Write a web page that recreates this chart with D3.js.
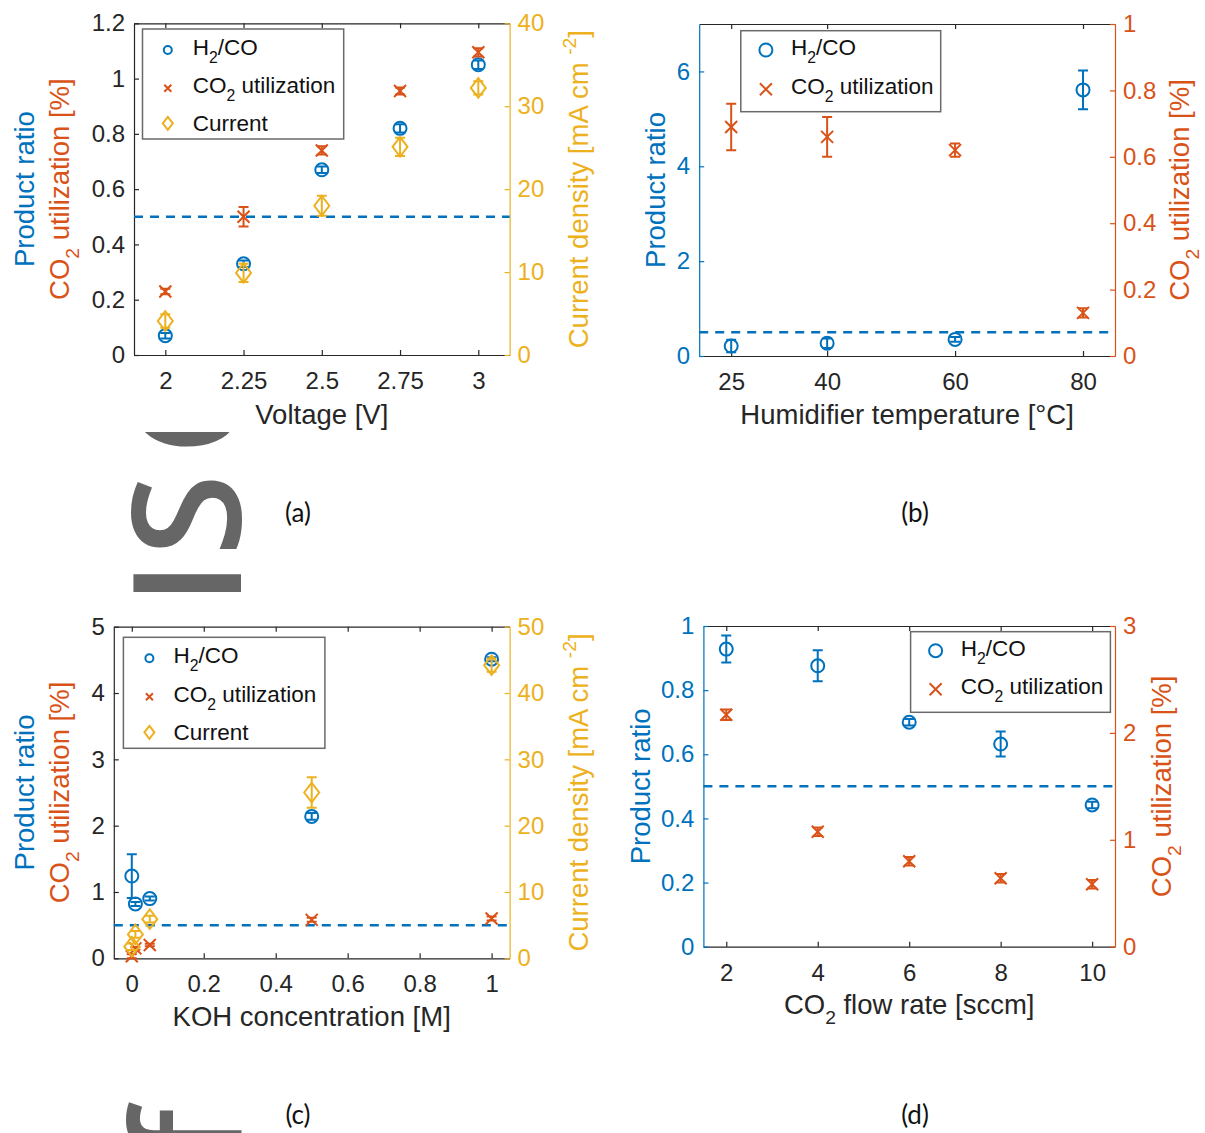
<!DOCTYPE html>
<html>
<head>
<meta charset="utf-8">
<script src="https://cdn.jsdelivr.net/npm/d3@7"></script>
<style>
  body { margin: 0; background: #fff; }
  svg { display: block; font-family: "Liberation Sans", Arial, sans-serif; }
</style>
</head>
<body>
<div id="chart"></div>
<script>
// MATLAB default colours
var blue = "#0072BD", orange = "#D95319", yellow = "#EDB120", ink = "#262626";

// (a) cell voltage
var voltage = [2, 2.25, 2.5, 2.75, 3];
var aRatio = [0.07, 0.33, 0.67, 0.82, 1.05];
var aRatioErr = [0.01, 0.012, 0.012, 0.015, 0.015];
var aUtil = [0.23, 0.50, 0.74, 0.955, 1.095];
var aUtilErr = [0.01, 0.035, 0.015, 0.013, 0.015];
var aCurrent = [4.1, 9.9, 18.0, 25.1, 32.2];
var aCurrentErr = [0.8, 1.1, 1.2, 1.1, 0.8];

// (b) humidifier temperature
var humTemp = [25, 40, 60, 80];
var bRatio = [0.21, 0.27, 0.35, 5.61];
var bRatioErr = [0.13, 0.1, 0.05, 0.41];
var bUtil = [0.69, 0.66, 0.62, 0.13];
var bUtilErr = [0.07, 0.06, 0.02, 0.014];

// (c) KOH concentration
var koh = [0, 0.01, 0.05, 0.5, 1];
var cRatio = [1.24, 0.82, 0.9, 2.14, 4.51];
var cRatioErr = [0.33, 0.03, 0.03, 0.05, 0.03];
var cUtil = [0.03, 0.15, 0.2, 0.58, 0.6];
var cUtilErr = [0.03, 0.02, 0.02, 0.03, 0.03];
var cCurrent = [1.75, 3.6, 5.9, 25.0, 44.2];
var cCurrentErr = [0.5, 0.5, 0.5, 2.3, 1.0];

// (d) CO2 flow rate
var flow = [2, 4, 6, 8, 10];
var dRatio = [0.928, 0.876, 0.70, 0.632, 0.442];
var dRatioErr = [0.042, 0.048, 0.01, 0.039, 0.01];
var dUtil = [2.17, 1.076, 0.80, 0.64, 0.584];
var dUtilErr = [0.05, 0.04, 0.04, 0.04, 0.04];

// tick values
var voltageTicks = [2, 2.25, 2.5, 2.75, 3];
var aLeftTicks = [0, 0.2, 0.4, 0.6, 0.8, 1, 1.2];
var aRightTicks = [0, 10, 20, 30, 40];
var humTicks = [25, 40, 60, 80];
var bLeftTicks = [0, 2, 4, 6];
var bRightTicks = [0, 0.2, 0.4, 0.6, 0.8, 1];
var kohTicks = [0, 0.2, 0.4, 0.6, 0.8, 1];
var cLeftTicks = [0, 1, 2, 3, 4, 5];
var cRightTicks = [0, 10, 20, 30, 40, 50];
var flowTicks = [2, 4, 6, 8, 10];
var dLeftTicks = [0, 0.2, 0.4, 0.6, 0.8, 1];
var dRightTicks = [0, 1, 2, 3];

var FONT = '"Liberation Sans", Arial, sans-serif';
var fmt = function(d) { return String(d); };
var svg = d3.select("#chart").append("svg")
  .attr("width", 1205)
  .attr("height", 1133);

// ---- faint watermark letters peeking out between the panels
var clip = svg.append("defs").append("clipPath").attr("id", "wm");
clip.append("rect").attr("x", 110).attr("y", 432).attr("width", 150).attr("height", 163);
clip.append("rect").attr("x", 110).attr("y", 1093).attr("width", 150).attr("height", 40);
var wm = svg.append("g").attr("clip-path", "url(#wm)")
  .attr("fill", "#666").attr("font-family", '"Open Sans", sans-serif')
  .attr("font-weight", 600).attr("font-size", 150).attr("text-anchor", "middle");
[["I", 583], ["S", 515], ["C", 408], ["f", 1136]].forEach(function(w) {
  wm.append("text").attr("transform", "translate(241," + w[1] + ") rotate(-90)").text(w[0]);
});

// ---- marker shapes
var symX = { draw: function(c, size) { var r = Math.sqrt(size) / 2;
  c.moveTo(-r, -r); c.lineTo(r, r); c.moveTo(r, -r); c.lineTo(-r, r); } };
var symDiamond = { draw: function(c, size) { var r = Math.sqrt(size) / 2;
  c.moveTo(0, -r * 1.3); c.lineTo(r, 0); c.lineTo(0, r * 1.3); c.lineTo(-r, 0); c.closePath(); } };
function marker(kind, big) {
  var r = big ? 6.5 : 4;
  if (kind === "o") return d3.symbol().type(d3.symbolCircle).size(Math.PI * r * r)();
  if (kind === "x") return d3.symbol().type(symX).size(big ? 144 : 49)();
  return d3.symbol().type(symDiamond).size(big ? 225 : 100)();
}

// text with sub/superscripts
function rich(t, parts, size) {
  var cur = 0;
  parts.forEach(function(p) {
    var off = p.sub ? size * 0.36 : (p.sup ? -size * 0.45 : 0);
    var s = t.append("tspan").text(p.t).attr("dy", off - cur);
    if (p.sub || p.sup) s.attr("font-size", size * 0.7);
    cur = off;
  });
}
var H2CO = [{t: "H"}, {t: "2", sub: true}, {t: "/CO"}];
var CO2U = [{t: "CO"}, {t: "2", sub: true}, {t: " utilization"}];
var CO2UL = [{t: "CO"}, {t: "2", sub: true}, {t: " utilization [%]"}];
var CURL = [{t: "Current density [mA cm "}, {t: "-2", sup: true}, {t: "]"}];
var CURL0 = [{t: "Current"}];

function styleAxis(a, color) {
  a.attr("color", color).attr("font-family", FONT).attr("font-size", 24);
  a.selectAll("path, line").attr("stroke-width", 1.2);
}

function panel(p) {
  var g = svg.append("g");
  var x = d3.scaleLinear().domain(p.xDomain).range([p.left, p.right]);
  var yL = d3.scaleLinear().domain(p.leftDomain).range([p.bottom, p.top]);
  var yR = d3.scaleLinear().domain(p.rightDomain).range([p.bottom, p.top]);

  // box: top line, bottom axis, left and right axes (ticks point inward)
  styleAxis(g.append("g").attr("transform", "translate(0," + p.top + ")")
    .call(d3.axisTop(x).tickValues(p.xTicks).tickSize(-5).tickSizeOuter(0).tickFormat("")), ink);
  styleAxis(g.append("g").attr("transform", "translate(0," + p.bottom + ")")
    .call(d3.axisBottom(x).tickValues(p.xTicks).tickFormat(fmt).tickSize(-5).tickSizeOuter(0).tickPadding(17)), ink);
  styleAxis(g.append("g").attr("transform", "translate(" + p.left + ",0)")
    .call(d3.axisLeft(yL).tickValues(p.leftTicks).tickFormat(fmt).tickSize(-5).tickSizeOuter(0).tickPadding(9)), p.leftColor);
  styleAxis(g.append("g").attr("transform", "translate(" + p.right + ",0)")
    .call(d3.axisRight(yR).tickValues(p.rightTicks).tickFormat(fmt).tickSize(-5).tickSizeOuter(0).tickPadding(8)), p.rightColor);

  // reference line at H2/CO = 0.5
  g.append("line")
    .attr("x1", p.left).attr("x2", p.right)
    .attr("y1", yL(0.5)).attr("y2", yL(0.5))
    .attr("stroke", blue).attr("stroke-width", 2.5).attr("stroke-dasharray", "9,7");

  // series with error bars
  p.series.forEach(function(s) {
    var y = s.axis === "right" ? yR : yL;
    var pts = s.x.map(function(xv, i) { return {x: xv, v: s.values[i], e: s.errs[i]}; });
    var sg = g.append("g").attr("stroke", s.color).attr("fill", "none").attr("stroke-width", 2);
    sg.selectAll(".eb").data(pts).enter().append("path")
      .attr("d", function(d) {
        var cx = x(d.x), y1 = y(d.v - d.e), y2 = y(d.v + d.e);
        return "M" + (cx - 5) + "," + y1 + "H" + (cx + 5) + "M" + cx + "," + y1 + "V" + y2 +
               "M" + (cx - 5) + "," + y2 + "H" + (cx + 5);
      });
    sg.selectAll(".mk").data(pts).enter().append("path")
      .attr("transform", function(d) { return "translate(" + x(d.x) + "," + y(d.v) + ")"; })
      .attr("d", marker(s.marker, true));
  });

  // axis labels
  rich(g.append("text").attr("text-anchor", "middle").attr("font-size", 27.5).attr("fill", ink)
    .attr("x", (p.left + p.right) / 2).attr("y", p.xLabelY), p.xLabel, 27.5);
  p.yLabels.forEach(function(l) {
    rich(g.append("text").attr("text-anchor", "middle").attr("font-size", 27.5).attr("fill", l.color)
      .attr("transform", "translate(" + l.x + "," + (p.top + p.bottom) / 2 + ") rotate(-90)"), l.parts, 27.5);
  });

  // legend
  var L = p.legend;
  var lg = g.append("g");
  lg.append("rect").attr("x", L.x0).attr("y", L.y0).attr("width", L.x1 - L.x0).attr("height", L.y1 - L.y0)
    .attr("fill", "#fff").attr("stroke", "#6a6a6a").attr("stroke-width", 1.5);
  L.rows.forEach(function(r, i) {
    var s = p.series[i];
    lg.append("path").attr("transform", "translate(" + L.mx + "," + r + ")")
      .attr("d", marker(s.marker, L.big)).attr("fill", "none").attr("stroke", s.color).attr("stroke-width", 2);
    rich(lg.append("text").attr("x", L.tx).attr("y", r + (s.name === CURL0 ? 8 : 5))
      .attr("font-size", 22.5).attr("fill", "#111"), s.name, 22.5);
  });

  svg.append("text").attr("x", p.tag[0]).attr("y", p.tag[1]).attr("text-anchor", "middle")
    .attr("font-family", "Lato, 'Open Sans', sans-serif").attr("font-size", 26).attr("fill", "#111")
    .text(p.tag[2]);
}

panel({
  left: 134, right: 509.6, top: 23.3, bottom: 355,
  xDomain: [1.9, 3.1], xTicks: voltageTicks,
  leftDomain: [0, 1.2], leftTicks: aLeftTicks, leftColor: ink,
  rightDomain: [0, 40], rightTicks: aRightTicks, rightColor: yellow,
  series: [
    {name: H2CO, x: voltage, values: aRatio, errs: aRatioErr, axis: "left", marker: "o", color: blue},
    {name: CO2U, x: voltage, values: aUtil, errs: aUtilErr, axis: "left", marker: "x", color: orange},
    {name: CURL0, x: voltage, values: aCurrent, errs: aCurrentErr, axis: "right", marker: "d", color: yellow}
  ],
  xLabel: [{t: "Voltage [V]"}], xLabelY: 424,
  yLabels: [{x: 34, color: blue, parts: [{t: "Product ratio"}]},
            {x: 69, color: orange, parts: CO2UL},
            {x: 588, color: yellow, parts: CURL}],
  legend: {x0: 142.5, x1: 343.7, y0: 29, y1: 139, mx: 167.8, tx: 192.7, rows: [50, 88.3, 123.3], big: false},
  tag: [298, 522, "(a)"]
});

panel({
  left: 699.2, right: 1115, top: 24, bottom: 356,
  xDomain: [20, 85], xTicks: humTicks,
  leftDomain: [0, 7], leftTicks: bLeftTicks, leftColor: blue,
  rightDomain: [0, 1], rightTicks: bRightTicks, rightColor: orange,
  series: [
    {name: H2CO, x: humTemp, values: bRatio, errs: bRatioErr, axis: "left", marker: "o", color: blue},
    {name: CO2U, x: humTemp, values: bUtil, errs: bUtilErr, axis: "right", marker: "x", color: orange}
  ],
  xLabel: [{t: "Humidifier temperature [°C]"}], xLabelY: 424,
  yLabels: [{x: 665, color: blue, parts: [{t: "Product ratio"}]},
            {x: 1189, color: orange, parts: CO2UL}],
  legend: {x0: 740.8, x1: 940.7, y0: 30.7, y1: 111.7, mx: 765.9, tx: 791, rows: [50, 89.3], big: true},
  tag: [915, 522, "(b)"]
});

panel({
  left: 113.8, right: 509.6, top: 626.7, bottom: 958.3,
  xDomain: [-0.05, 1.05], xTicks: kohTicks,
  leftDomain: [0, 5], leftTicks: cLeftTicks, leftColor: ink,
  rightDomain: [0, 50], rightTicks: cRightTicks, rightColor: yellow,
  series: [
    {name: H2CO, x: koh, values: cRatio, errs: cRatioErr, axis: "left", marker: "o", color: blue},
    {name: CO2U, x: koh, values: cUtil, errs: cUtilErr, axis: "left", marker: "x", color: orange},
    {name: CURL0, x: koh, values: cCurrent, errs: cCurrentErr, axis: "right", marker: "d", color: yellow}
  ],
  xLabel: [{t: "KOH concentration [M]"}], xLabelY: 1026,
  yLabels: [{x: 34, color: blue, parts: [{t: "Product ratio"}]},
            {x: 69, color: orange, parts: CO2UL},
            {x: 588, color: yellow, parts: CURL}],
  legend: {x0: 123.4, x1: 324.9, y0: 637.3, y1: 748.3, mx: 149.4, tx: 173.6, rows: [658.3, 696.7, 732.3], big: false},
  tag: [298, 1124, "(c)"]
});

panel({
  left: 703.4, right: 1115, top: 626, bottom: 946.7,
  xDomain: [1.5, 10.5], xTicks: flowTicks,
  leftDomain: [0, 1], leftTicks: dLeftTicks, leftColor: blue,
  rightDomain: [0, 3], rightTicks: dRightTicks, rightColor: orange,
  series: [
    {name: H2CO, x: flow, values: dRatio, errs: dRatioErr, axis: "left", marker: "o", color: blue},
    {name: CO2U, x: flow, values: dUtil, errs: dUtilErr, axis: "right", marker: "x", color: orange}
  ],
  xLabel: [{t: "CO"}, {t: "2", sub: true}, {t: " flow rate [sccm]"}], xLabelY: 1014,
  yLabels: [{x: 650, color: blue, parts: [{t: "Product ratio"}]},
            {x: 1171, color: orange, parts: CO2UL}],
  legend: {x0: 910.6, x1: 1110.4, y0: 631.7, y1: 712.3, mx: 935.6, tx: 960.7, rows: [650.7, 689.3], big: true},
  tag: [915, 1124, "(d)"]
});
</script>
</body>
</html>
